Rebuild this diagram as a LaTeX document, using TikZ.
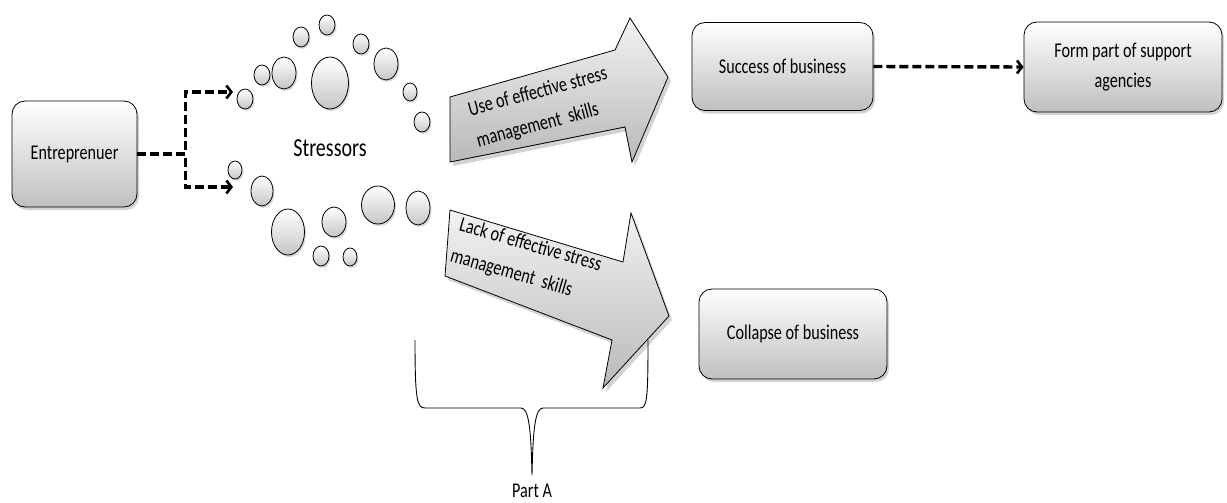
\documentclass[tikz,border=0pt]{standalone}
\usepackage{fontspec}
\setmainfont{Carlito}[FakeStretch=0.77]
\usetikzlibrary{shapes.geometric,shadows,arrows.meta}
\tikzset{
  box/.style={draw, line width=0.8pt, rounded corners=13pt, top color=white, bottom color=gray!50,
    drop shadow={shadow xshift=2pt, shadow yshift=-3pt, opacity=0.35}, font=\fontsize{21}{30}\selectfont, align=center, inner sep=2pt},
  bubble/.style={ellipse, draw, line width=0.8pt, inner sep=0pt, top color=white, bottom color=gray!45,
    drop shadow={shadow xshift=1.5pt, shadow yshift=-2pt, opacity=0.3}},
  blockarrow/.style={draw, line width=0.8pt, top color=gray!10, bottom color=gray!55,
    drop shadow={shadow xshift=3pt, shadow yshift=-4pt, opacity=0.35}},
  dashconn/.style={line width=3.4pt, dash pattern=on 9pt off 4pt,
    -{Straight Barb[length=5pt,width=13pt,line width=2.6pt]}},
  arrowtext/.style={font=\fontsize{21}{32}\selectfont, align=left, inner sep=0pt},
}
\begin{document}
\begin{tikzpicture}[x=1pt,y=-1pt]
\useasboundingbox (0,0) rectangle (1227,503);
% boxes
\node[box, minimum width=125pt, minimum height=106pt] (ent) at (74.5,154) {Entreprenuer};
\node[box, minimum width=181pt, minimum height=88pt] (succ) at (782.5,66.5) {Success of business};
\node[box, minimum width=198pt, minimum height=90pt] (form) at (1123,67) {Form part of support\\agencies};
\node[box, minimum width=188pt, minimum height=90pt] (coll) at (793,334) {Collapse of business};
% bubbles top arc
\node[bubble, minimum width=16pt, minimum height=20pt] (b1) at (245,99) {};
\node[bubble, minimum width=16pt, minimum height=20pt] (b2) at (262,75) {};
\node[bubble, minimum width=24pt, minimum height=32pt] (b3) at (284,73) {};
\node[bubble, minimum width=16pt, minimum height=20pt] (b4) at (301,37) {};
\node[bubble, minimum width=16pt, minimum height=20pt] (b5) at (327,25) {};
\node[bubble, minimum width=37pt, minimum height=52pt] (b6) at (330,83) {};
\node[bubble, minimum width=16pt, minimum height=20pt] (b7) at (361,44) {};
\node[bubble, minimum width=24pt, minimum height=32pt] (b8) at (386,64) {};
\node[bubble, minimum width=14pt, minimum height=18pt] (b9) at (410,92) {};
\node[bubble, minimum width=16pt, minimum height=20pt] (b10) at (422,122) {};
% bubbles bottom arc
\node[bubble, minimum width=14pt, minimum height=18pt] (b11) at (235,170) {};
\node[bubble, minimum width=22pt, minimum height=30pt] (b12) at (262,191) {};
\node[bubble, minimum width=33pt, minimum height=46pt] (b13) at (288,232) {};
\node[bubble, minimum width=24pt, minimum height=30pt] (b14) at (334,222) {};
\node[bubble, minimum width=16pt, minimum height=20pt] (b15) at (321,256) {};
\node[bubble, minimum width=14pt, minimum height=18pt] (b16) at (350,257) {};
\node[bubble, minimum width=33pt, minimum height=38pt] (b17) at (378,205) {};
\node[bubble, minimum width=24pt, minimum height=34pt] (b18) at (418,208) {};
\node[font=\fontsize{26}{30}\selectfont] (stress) at (330,148) {Stressors};
% connectors
\coordinate (t1) at (233,92);
\coordinate (t2) at (233,187);
\draw[dashconn] (ent.east) -- ++(48,0) |- (t1);
\draw[dashconn] (ent.east) -- ++(48,0) |- (t2);
\draw[dashconn] (succ.east) -- (form.west);
% block arrows
\path[blockarrow] (450,97) -- (615,50) -- (630,18) -- (668,77) -- (632,162) -- (625,127) -- (450,162) -- cycle;
\path[blockarrow] (450,210) -- (623,262) -- (631,213) -- (669,316) -- (603,388) -- (612,340) -- (445,276) -- cycle;
\node[arrowtext, rotate=15] (up) at (542,108) {Use of effective stress\\management\ \ skills};
\node[arrowtext, rotate=-16] (lo) at (526,261) {Lack of effective stress\\management\ \ skills};
% brace
\draw[line width=0.9pt] (415,340) .. controls (415,400) and (417,408) .. (425,408) -- (521,408)
  .. controls (529,408) and (531,430) .. (532,475)
  .. controls (533,430) and (535,408) .. (543,408) -- (640,408)
  .. controls (647,408) and (648,400) .. (648,340);
\node[font=\fontsize{21}{24}\selectfont] (parta) at (532,491) {Part A};
\end{tikzpicture}
\end{document}
